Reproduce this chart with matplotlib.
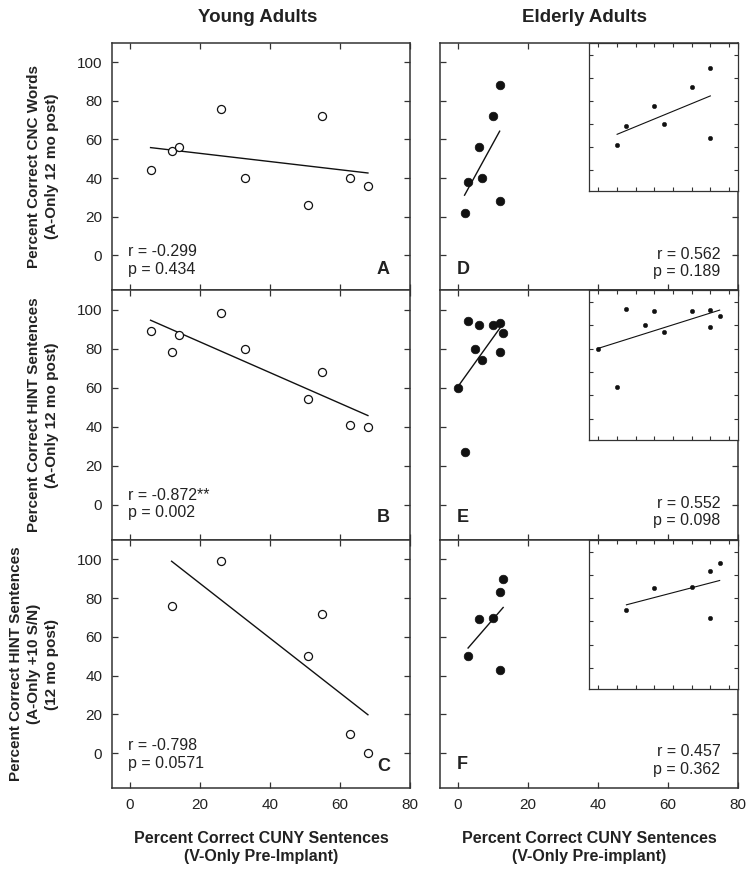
import numpy as np
import matplotlib
matplotlib.use("Agg")
import matplotlib.pyplot as plt

plt.rcParams['font.family'] = ['Liberation Sans', 'DejaVu Sans']

# ---------------- data ----------------
young_x_ab = [6, 12, 14, 26, 33, 51, 55, 63, 68]
young_cnc = [44, 54, 56, 76, 40, 26, 72, 40, 36]
young_hint = [89, 78, 87, 98, 80, 54, 68, 41, 40]
young_x_c = [12, 26, 51, 55, 63, 68]
young_hint_sn = [76, 99, 50, 72, 10, 0]

elder_x_d = [2, 3, 6, 7, 10, 12, 12]
elder_cnc = [22, 38, 56, 40, 72, 88, 28]
elder_x_e = [0, 2, 3, 5, 6, 7, 10, 12, 12, 13]
elder_hint = [60, 27, 94, 80, 92, 74, 92, 93, 78, 88]
elder_x_f = [3, 6, 10, 12, 13, 12]
elder_hint_sn = [50, 69, 70, 83, 90, 43]

stats_r = ["r = -0.299", "r = -0.872**", "r = -0.798", "r = 0.562", "r = 0.552", "r = 0.457"]
stats_p = ["p = 0.434", "p = 0.002", "p = 0.0571", "p = 0.189", "p = 0.098", "p = 0.362"]
panel_letters = ["A", "B", "C", "D", "E", "F"]
col_titles = ["Young Adults", "Elderly Adults"]
row_ylabels = ["Percent Correct CNC Words\n(A-Only 12 mo post)",
               "Percent Correct HINT Sentences\n(A-Only 12 mo post)",
               "Percent Correct HINT Sentences\n(A-Only +10 S/N)\n(12 mo post)"]
x_labels = ["Percent Correct CUNY Sentences\n(V-Only Pre-Implant)",
            "Percent Correct CUNY Sentences\n(V-Only Pre-implant)"]
main_xticks = [0, 20, 40, 60, 80]
main_yticks = [0, 20, 40, 60, 80, 100]
inset_xticks = [0, 2, 4, 6, 8, 10, 12, 14]

# ---------------- layout ----------------
W, H = 756, 874
fig = plt.figure(figsize=(W / 100, H / 100), dpi=100)

col_px = [(112, 410), (440, 738.3)]
row_px = [(43, 290), (290, 540), (540, 788)]

SPINE = '#333333'
TXT = '#222222'


def fig_rect(c, r):
    x0, x1 = col_px[c]
    y0, y1 = row_px[r]
    return [x0 / W, 1 - y1 / H, (x1 - x0) / W, (y1 - y0) / H]


def style(ax, ticklen=4, lw=1.1):
    for s in ax.spines.values():
        s.set_color(SPINE)
        s.set_linewidth(lw)
    ax.tick_params(direction='in', length=ticklen, width=0.9, color=SPINE,
                   top=True, right=True, labelsize=11, labelcolor=TXT, pad=7)


def fitline(ax, x, y, lw):
    x = np.asarray(x, float)
    y = np.asarray(y, float)
    m, b = np.polyfit(x, y, 1)
    xs = np.array([x.min(), x.max()])
    ax.plot(xs, m * xs + b, color='#111111', lw=lw, zorder=2)


young_sets = [(young_x_ab, young_cnc), (young_x_ab, young_hint), (young_x_c, young_hint_sn)]
elder_sets = [(elder_x_d, elder_cnc), (elder_x_e, elder_hint), (elder_x_f, elder_hint_sn)]

# text positions (axes fraction) per panel: r-y, p-y, letter-y
young_text_y = [(0.155, 0.084, 0.081), (0.18, 0.11, 0.092), (0.173, 0.10, 0.088)]
elder_text_y = [(0.142, 0.073, 0.085), (0.147, 0.076, 0.092), (0.149, 0.075, 0.096)]

STAT_FS = 11.5

for r in range(3):
    # ---- young ----
    ax = fig.add_axes(fig_rect(0, r))
    x, y = young_sets[r]
    fitline(ax, x, y, 1.0)
    ax.plot(x, y, 'o', ms=5.8, mfc='white', mec='#111111', mew=0.9, zorder=3)
    ax.set_xlim(-5, 80)
    ax.set_ylim(-18, 110)
    ax.set_xticks(main_xticks)
    ax.set_yticks(main_yticks)
    style(ax)
    if r < 2:
        ax.tick_params(labelbottom=False)
    ry, py, ly = young_text_y[r]
    i = r
    ax.text(0.054, ry, stats_r[i], transform=ax.transAxes, fontsize=STAT_FS,
            color=TXT, va='center', ha='left')
    ax.text(0.054, py, stats_p[i], transform=ax.transAxes, fontsize=STAT_FS,
            color=TXT, va='center', ha='left')
    ax.text(0.933, ly, panel_letters[i], transform=ax.transAxes, fontsize=13,
            fontweight='bold', color=TXT, va='center', ha='right')

    # ---- elderly ----
    ax2 = fig.add_axes(fig_rect(1, r))
    x, y = elder_sets[r]
    fitline(ax2, x, y, 1.0)
    ax2.plot(x, y, 'o', ms=6.2, mfc='#111111', mec='#111111', mew=0.5, zorder=3)
    ax2.set_xlim(-5, 80)
    ax2.set_ylim(-18, 110)
    ax2.set_xticks(main_xticks)
    ax2.set_yticks(main_yticks)
    style(ax2)
    ax2.tick_params(labelleft=False)
    if r < 2:
        ax2.tick_params(labelbottom=False)
    ry, py, ly = elder_text_y[r]
    i = r + 3
    ax2.text(0.94, ry, stats_r[i], transform=ax2.transAxes, fontsize=STAT_FS,
             color=TXT, va='center', ha='right')
    ax2.text(0.94, py, stats_p[i], transform=ax2.transAxes, fontsize=STAT_FS,
             color=TXT, va='center', ha='right')
    ax2.text(0.056, ly, panel_letters[i], transform=ax2.transAxes, fontsize=13,
             fontweight='bold', color=TXT, va='center', ha='left')

    # ---- inset ----
    ins = ax2.inset_axes([0.5, 0.4, 0.5, 0.6])
    fitline(ins, x, y, 0.8)
    ins.plot(x, y, 'o', ms=3.2, mfc='#111111', mec='#111111', mew=0.3, zorder=3)
    ins.set_xlim(-1, 15)
    ins.set_ylim(-18, 110)
    ins.set_xticks(inset_xticks)
    ins.set_yticks(main_yticks)
    for s in ins.spines.values():
        s.set_color(SPINE)
        s.set_linewidth(0.9)
    ins.tick_params(direction='in', length=3, width=0.8, color=SPINE,
                    top=True, right=True, labelleft=False, labelbottom=False)

# ---------------- figure texts ----------------
fig.text(258 / W, 1 - 17 / H, col_titles[0], fontsize=13.5, fontweight='bold',
         color=TXT, ha='center', va='center')
fig.text(584 / W, 1 - 17 / H, col_titles[1], fontsize=13.5, fontweight='bold',
         color=TXT, ha='center', va='center')

label_x = [43, 43, 34]
for r in range(3):
    y0, y1 = row_px[r]
    fig.text(label_x[r] / W, 1 - (y0 + y1) / 2 / H, row_ylabels[r], rotation=90,
             fontsize=11, fontweight='bold', color=TXT, ha='center', va='center',
             multialignment='center', linespacing=1.32)

fig.text(261 / W, 1 - 847.5 / H, x_labels[0], fontsize=11.5, fontweight='bold',
         color=TXT, ha='center', va='center', multialignment='center', linespacing=1.2)
fig.text(589 / W, 1 - 847.5 / H, x_labels[1], fontsize=11.5, fontweight='bold',
         color=TXT, ha='center', va='center', multialignment='center', linespacing=1.2)

fig.savefig('out.png', dpi=100)
